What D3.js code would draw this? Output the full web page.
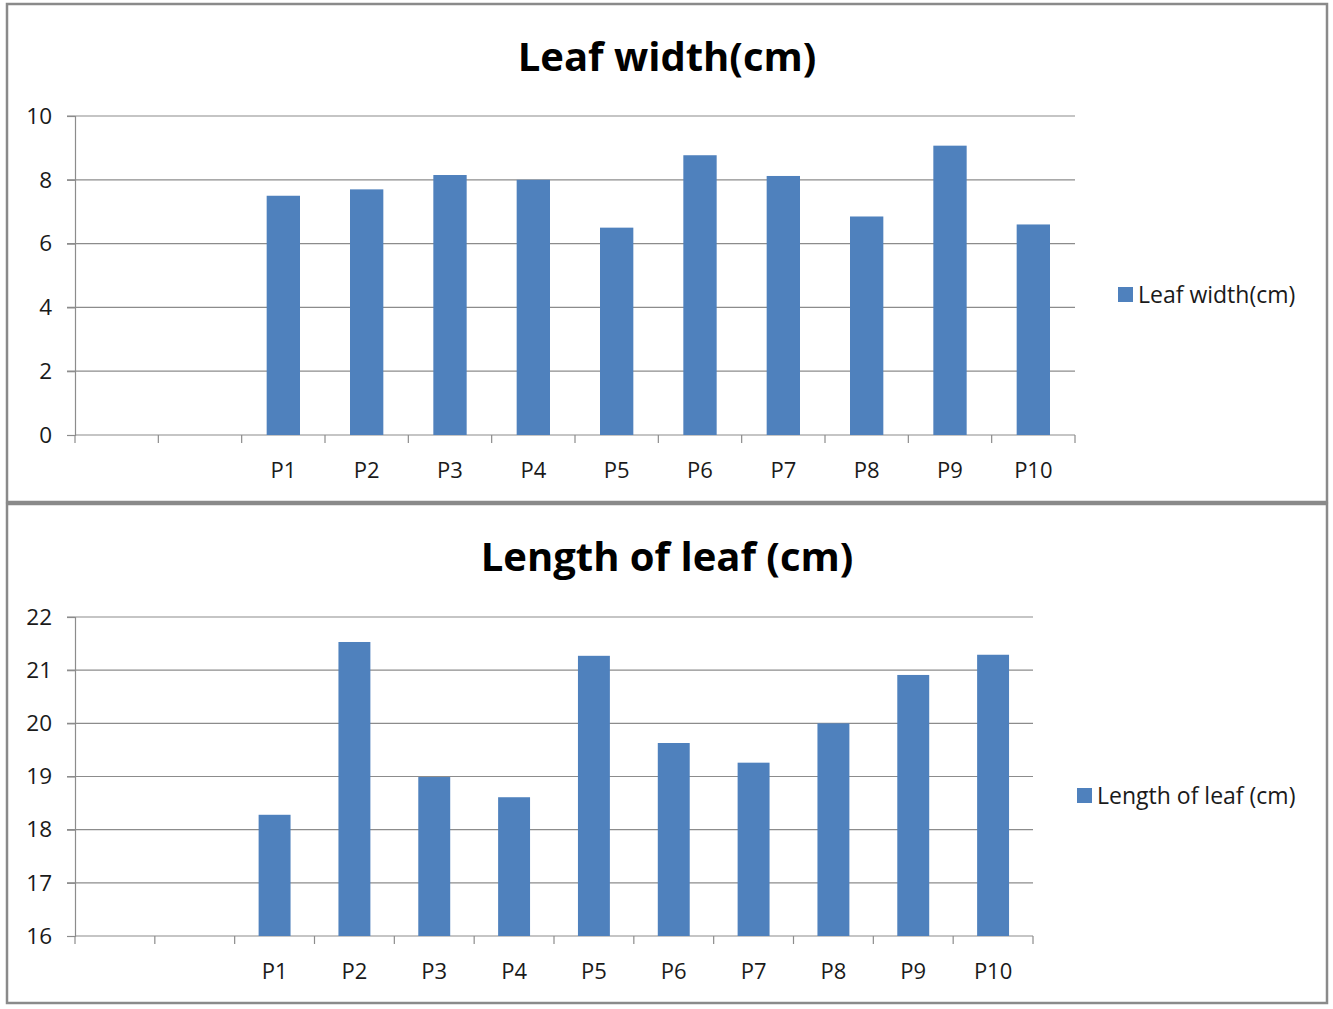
<!DOCTYPE html>
<html>
<head>
<meta charset="utf-8">
<script src="https://cdn.jsdelivr.net/npm/d3@7"></script>
<style>
  body { margin: 0; background: #fff; }
  text { font-family: "Open Sans", sans-serif; fill: #1a1a1a; }
</style>
</head>
<body>
<svg id="chart" width="1333" height="1009"></svg>
<script>
// two blank slots before P1, as in the original sheet
const categories = ['', ' ', 'P1', 'P2', 'P3', 'P4', 'P5', 'P6', 'P7', 'P8', 'P9', 'P10'];
const leafWidth = [null, null, 7.5, 7.7, 8.15, 8.0, 6.5, 8.77, 8.12, 6.85, 9.07, 6.6];
const leafLength = [null, null, 18.28, 21.53, 18.99, 18.61, 21.27, 19.63, 19.26, 20.0, 20.91, 21.29];
const widthTicks = [0, 2, 4, 6, 8, 10];
const lengthTicks = [16, 17, 18, 19, 20, 21, 22];

const svg = d3.select('#chart');
const barColor = '#4F81BD';
const gridColor = '#8c8c8c';

const drawPanel = (cfg) => {
    const g = svg.append('g');

    g.append('rect')
        .attr('x', 7).attr('y', cfg.top)
        .attr('width', 1320).attr('height', cfg.h)
        .attr('fill', '#fff')
        .attr('stroke', '#8a8a8a')
        .attr('stroke-width', 2.5);

    g.append('text')
        .attr('x', cfg.titleX).attr('y', cfg.titleY)
        .attr('text-anchor', 'middle')
        .attr('font-size', 40).attr('font-weight', 'bold')
        .style('fill', '#000')
        .text(cfg.title);

    const x = d3.scaleBand()
        .domain(categories)
        .range([75, cfg.right])
        .paddingInner(0.6).paddingOuter(0.3);

    // separate scale for tick positions (category boundaries)
    const xEdge = d3.scaleLinear().domain([0, categories.length]).range([75, cfg.right]);

    const y = d3.scaleLinear().domain(cfg.domain).range([cfg.y0, cfg.y1]);

    // gridlines
    g.selectAll('.grid')
        .data(cfg.ticks.slice(1))
        .join('line')
        .attr('x1', 67).attr('x2', cfg.right)
        .attr('y1', d => y(d)).attr('y2', d => y(d))
        .attr('stroke', gridColor).attr('stroke-width', 1.2);

    const yAxis = d3.axisLeft(y).tickValues(cfg.ticks).tickFormat(d3.format('d')).tickSize(8).tickPadding(15);
    g.append('g')
        .attr('transform', 'translate(75,0)')
        .call(yAxis)
        .call(s => s.select('.domain').attr('stroke', gridColor).attr('stroke-width', 1.2))
        .call(s => s.selectAll('.tick line').attr('stroke', gridColor).attr('stroke-width', 1.2))
        .call(s => s.selectAll('.tick text').attr('font-size', 22.5).style('fill', '#1a1a1a'));

    // x baseline and category edge ticks
    g.append('line')
        .attr('x1', 75).attr('x2', cfg.right)
        .attr('y1', cfg.y0).attr('y2', cfg.y0)
        .attr('stroke', gridColor).attr('stroke-width', 1.2);

    g.selectAll('.xtick')
        .data(d3.range(categories.length + 1))
        .join('line')
        .attr('x1', d => xEdge(d)).attr('x2', d => xEdge(d))
        .attr('y1', cfg.y0).attr('y2', cfg.y0 + 8)
        .attr('stroke', gridColor).attr('stroke-width', 1.2);

    g.selectAll('.xlabel')
        .data(categories)
        .join('text')
        .attr('x', d => x(d) + x.bandwidth() / 2)
        .attr('y', cfg.y0 + 43)
        .attr('text-anchor', 'middle')
        .attr('font-size', 22)
        .text(d => d.trim());

    g.selectAll('.bar')
        .data(categories.map((c, i) => ({ c, v: cfg.values[i] })).filter(d => d.v != null))
        .join('rect')
        .attr('x', d => x(d.c))
        .attr('width', x.bandwidth())
        .attr('y', d => y(d.v))
        .attr('height', d => cfg.y0 - y(d.v))
        .attr('fill', barColor);

    // legend
    g.append('rect')
        .attr('x', cfg.legX).attr('y', cfg.legY - 15)
        .attr('width', 15).attr('height', 15)
        .attr('fill', barColor);
    g.append('text')
        .attr('x', cfg.legX + 20).attr('y', cfg.legY + 1)
        .attr('font-size', 23)
        .text(cfg.title);
};

drawPanel({
    top: 4, h: 498, title: 'Leaf width(cm)', titleX: 667, titleY: 71,
    values: leafWidth, domain: [0, 10], ticks: widthTicks,
    y0: 435, y1: 116, right: 1075, legX: 1118, legY: 302
});

drawPanel({
    top: 504, h: 499, title: 'Length of leaf (cm)', titleX: 667, titleY: 571,
    values: leafLength, domain: [16, 22], ticks: lengthTicks,
    y0: 936, y1: 617, right: 1033, legX: 1077, legY: 803
});
</script>
</body>
</html>
